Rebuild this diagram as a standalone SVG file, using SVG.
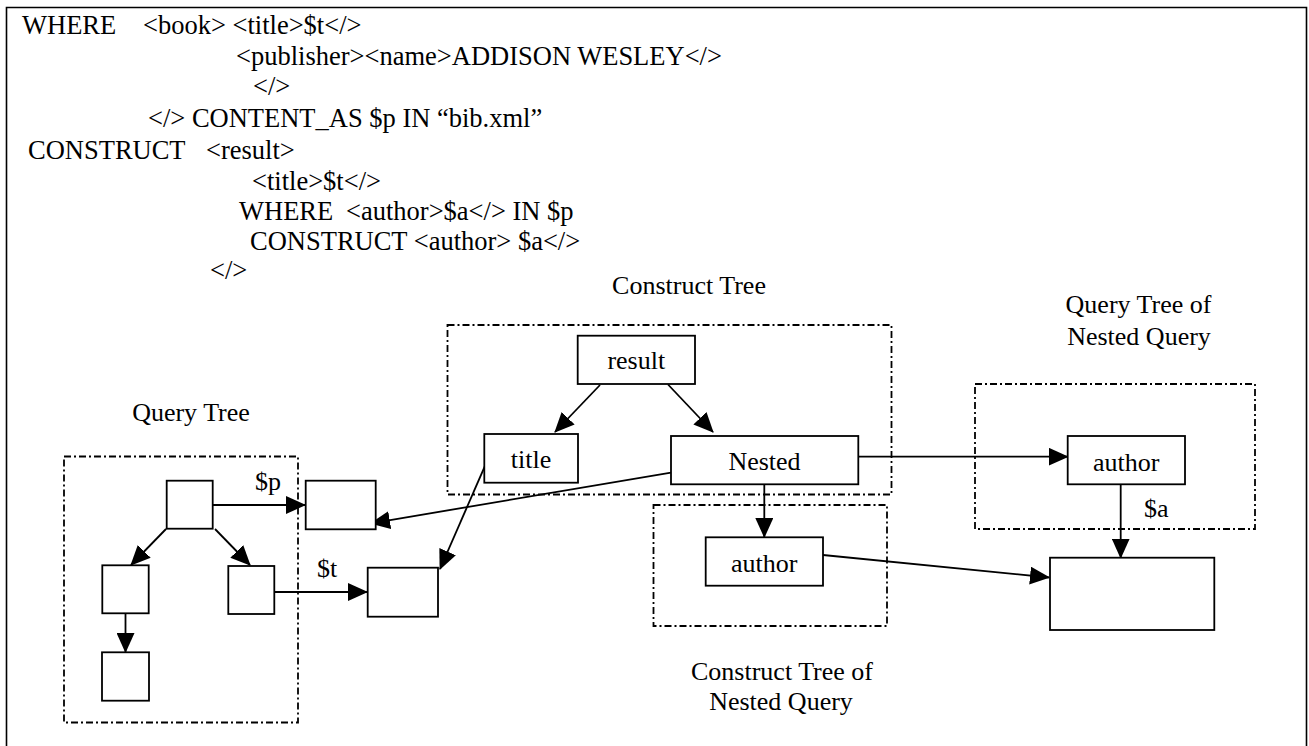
<svg xmlns="http://www.w3.org/2000/svg" width="1309" height="746" viewBox="0 0 1309 746">
  <style>
    text { font-family: "Liberation Serif", "Times New Roman", serif; font-size: 26px; fill: #000; }
    .code text { font-size: 26.5px; }
    .mid { text-anchor: middle; }
    .node { fill: #fff; stroke: #000; stroke-width: 1.8; }
    .group { fill: none; stroke: #000; stroke-width: 1.8; stroke-dasharray: 7 3 2 3; }
    .edge { fill: none; stroke: #000; stroke-width: 1.8; marker-end: url(#arrow); }
    .frame { fill: none; stroke: #000; stroke-width: 1.6; }
  </style>
  <defs>
    <marker id="arrow" markerUnits="userSpaceOnUse" markerWidth="20" markerHeight="18" refX="19" refY="9" orient="auto">
      <path d="M0,0 L20,9 L0,18 Z" fill="#000"/>
    </marker>
  </defs>

  <rect width="1309" height="746" fill="#fff"/>
  <path class="frame" d="M6.5,760 V7.5 H1306.5 V760"/>

  <!-- query text -->
  <g id="query-text" class="code">
    <text x="22" y="34">WHERE</text>
    <text x="143" y="34">&lt;book&gt; &lt;title&gt;$t&lt;/&gt;</text>
    <text x="236" y="65">&lt;publisher&gt;&lt;name&gt;ADDISON WESLEY&lt;/&gt;</text>
    <text x="253" y="95">&lt;/&gt;</text>
    <text x="148" y="127">&lt;/&gt; CONTENT_AS $p IN “bib.xml”</text>
    <text x="28" y="159">CONSTRUCT</text>
    <text x="206" y="159">&lt;result&gt;</text>
    <text x="252" y="190">&lt;title&gt;$t&lt;/&gt;</text>
    <text x="239" y="220">WHERE</text>
    <text x="346" y="220">&lt;author&gt;$a&lt;/&gt; IN $p</text>
    <text x="250" y="250">CONSTRUCT &lt;author&gt; $a&lt;/&gt;</text>
    <text x="210" y="279">&lt;/&gt;</text>
  </g>

  <!-- group frames and captions -->
  <g id="query-tree-group">
    <rect class="group" x="64" y="456.5" width="234" height="266"/>
    <text class="mid" x="191" y="421">Query Tree</text>
  </g>
  <g id="construct-tree-group">
    <rect class="group" x="447.5" y="325" width="444" height="169.5"/>
    <text class="mid" x="689" y="294">Construct Tree</text>
  </g>
  <g id="nested-construct-group">
    <rect class="group" x="653.5" y="505" width="233.5" height="121"/>
    <text class="mid" x="782" y="680">Construct Tree of</text>
    <text class="mid" x="781" y="710">Nested Query</text>
  </g>
  <g id="nested-query-group">
    <rect class="group" x="975" y="384" width="280" height="145"/>
    <text class="mid" x="1138.5" y="313">Query Tree of</text>
    <text class="mid" x="1139" y="345">Nested Query</text>
  </g>

  <!-- connectors -->
  <g id="connectors">
    <path class="edge" d="M166,529 L131,565"/>
    <path class="edge" d="M215,529 L250,565"/>
    <path class="edge" d="M125.5,614 L125.5,652"/>
    <path class="edge" d="M212.7,505 L305,505"/>
    <path class="edge" d="M274.3,592 L367,592"/>
    <path class="edge" d="M600,385 L555,432"/>
    <path class="edge" d="M668,384.5 L713,432"/>
    <path class="edge" d="M764.3,485 L764.3,537"/>
    <path class="edge" d="M858,456.7 L1067.7,456.7"/>
    <path class="edge" d="M1120.7,484.3 L1120.7,557.7"/>
    <path class="edge" d="M823,555 L1049,577.5"/>
    <path class="edge" d="M671,472.7 L371,523.3"/>
    <path class="edge" d="M489,456.7 L440,569"/>
    <text x="255" y="490">$p</text>
    <text x="317" y="577">$t</text>
    <text x="1144" y="517">$a</text>
  </g>

  <!-- query tree nodes -->
  <g id="qt-root"><rect class="node" x="166.7" y="480.7" width="46" height="48"/></g>
  <g id="qt-left"><rect class="node" x="102.3" y="565.3" width="46.4" height="48"/></g>
  <g id="qt-right"><rect class="node" x="228.3" y="566" width="46" height="48"/></g>
  <g id="qt-leaf"><rect class="node" x="102" y="652.3" width="47" height="48.4"/></g>

  <!-- bound variable boxes -->
  <g id="var-p"><rect class="node" x="305.7" y="480.7" width="70" height="48.6"/></g>
  <g id="var-t"><rect class="node" x="367.7" y="567.7" width="70.3" height="49"/></g>

  <!-- construct tree nodes -->
  <g id="ct-result">
    <rect class="node" x="577.7" y="335.7" width="117.3" height="48.3"/>
    <text class="mid" x="636.3" y="369">result</text>
  </g>
  <g id="ct-title">
    <rect class="node" x="484.3" y="434" width="93.7" height="48.7"/>
    <text class="mid" x="531" y="468">title</text>
  </g>
  <g id="ct-nested">
    <rect class="node" x="671" y="436" width="187.3" height="48.3"/>
    <text class="mid" x="764.5" y="470">Nested</text>
  </g>
  <g id="nc-author">
    <rect class="node" x="705.7" y="537.3" width="117.3" height="48.4"/>
    <text class="mid" x="764.3" y="571.5">author</text>
  </g>
  <g id="nq-author">
    <rect class="node" x="1067.7" y="436" width="117.3" height="48.3"/>
    <text class="mid" x="1126.3" y="470.5">author</text>
  </g>
  <g id="nq-result"><rect class="node" x="1050" y="557.7" width="164.3" height="72.3"/></g>
</svg>
